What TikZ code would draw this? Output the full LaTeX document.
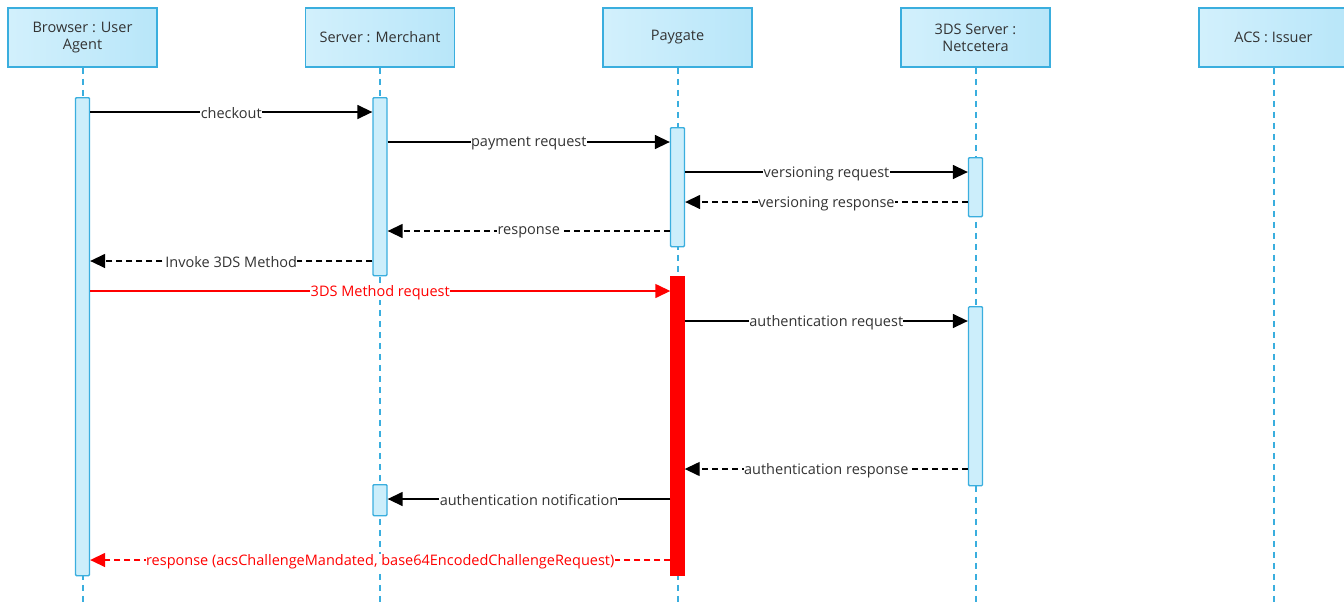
\documentclass[tikz,border=0pt]{standalone}
\usepackage{fontspec}
\setmainfont{Open Sans}
\usepackage{xcolor}
\usetikzlibrary{arrows.meta}
\definecolor{headfill}{HTML}{D2F0FC}
\definecolor{headfill2}{HTML}{B8E6F9}
\definecolor{edge}{HTML}{3AAEDE}
\definecolor{actfill}{HTML}{CCEEFB}
\definecolor{wire}{HTML}{555555}
\definecolor{hot}{HTML}{FF0000}
\definecolor{hotline}{HTML}{FF6A6A}
\tikzset{
  head/.style={draw=edge, line width=1.5pt, left color=headfill, right color=headfill2,
    minimum width=149pt, minimum height=59pt, align=center, font=\fontsize{14.5}{17}\selectfont, text=black!80},
  life/.style={draw=edge, line width=2pt, dash pattern=on 6pt off 5pt},
  act/.style={draw=edge, fill=actfill, line width=1.3pt, minimum width=14pt, inner sep=0pt, anchor=north, rounded corners=1pt},
  hotact/.style={fill=hot, draw=hot, minimum width=14pt, inner sep=0pt, anchor=north},
  msg/.style={draw=wire, line width=1.4pt, -{Triangle[length=15pt,width=14pt]}, color=black},
  ret/.style={msg, draw=black, dash pattern=on 6pt off 4pt},
  lbl/.style={fill=white, inner sep=0.3pt, yshift=-1.5pt, font=\fontsize{14.5}{17}\selectfont, text=black!80},
  hlbl/.style={lbl, text=hot},
}

\begin{document}
\begin{tikzpicture}[x=1pt,y=-1pt]
  \useasboundingbox (0,0) rectangle (1344,606);

  \node[head] (brw) at (82.5,37.5) {Browser : User\\Agent};
  \node[head] (mer) at (380,37.5) {Server : Merchant};
  \node[head] (pay) at (677.5,37.5) {Paygate};
  \node[head] (tds) at (975.5,37.5) {3DS Server :\\Netcetera};
  \node[head] (acs) at (1273.5,37.5) {ACS : Issuer};

  \foreach \h in {brw,mer,pay,tds,acs}
    \draw[life] (\h.south) -- (\h.south |- 0,606);

  \node[act, minimum height=478pt] (aB) at (82.5,97) {};
  \node[act, minimum height=178pt] (aM1) at (380,97) {};
  \node[act, minimum height=31pt] (aM2) at (380,484) {};
  \node[act, minimum height=119pt] (aP1) at (677.5,127) {};
  \node[hotact, minimum height=299pt] (aP2) at (677.5,276) {};
  \node[act, minimum height=59pt] (aT1) at (975.5,157) {};
  \node[act, minimum height=179pt] (aT2) at (975.5,306) {};

  \draw[msg] (aB.east |- 0,112) -- node[lbl]{checkout} (aM1.west |- 0,112);
  \draw[msg] (aM1.east |- 0,142) -- node[lbl]{payment request} (aP1.west |- 0,142);
  \draw[msg] (aP1.east |- 0,172) -- node[lbl]{versioning request} (aT1.west |- 0,172);
  \draw[ret] (aT1.west |- 0,202) -- node[lbl]{versioning response} (aP1.east |- 0,202);
  \draw[ret] (aP1.west |- 0,231) -- node[lbl]{response} (aM1.east |- 0,231);
  \draw[ret] (aM1.west |- 0,261) -- node[lbl]{Invoke 3DS Method} (aB.east |- 0,261);
  \draw[msg, draw=hotline, color=hot] (aB.east |- 0,291) -- node[hlbl]{3DS Method request} (aP2.west |- 0,291);
  \draw[msg] (aP2.east |- 0,321) -- node[lbl]{authentication request} (aT2.west |- 0,321);
  \draw[ret] (aT2.west |- 0,469) -- node[lbl]{authentication response} (aP2.east |- 0,469);
  \draw[msg] (aP2.west |- 0,499) -- node[lbl]{authentication notification} (aM2.east |- 0,499);
  \draw[ret, draw=hot, color=hot] (aP2.west |- 0,560) -- node[hlbl]{response (acsChallengeMandated, base64EncodedChallengeRequest)} (aB.east |- 0,560);
\end{tikzpicture}
\end{document}
